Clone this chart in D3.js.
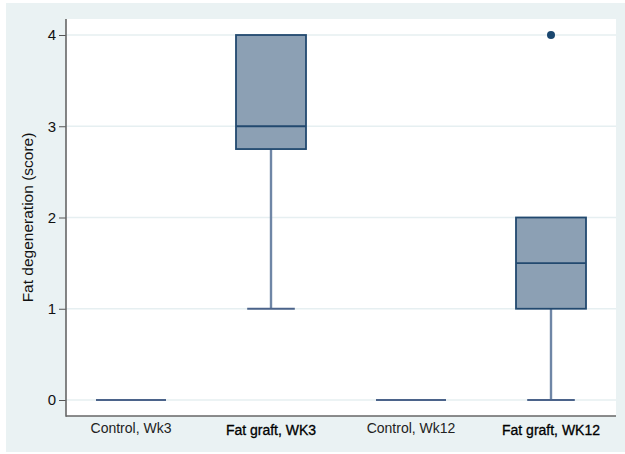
<!DOCTYPE html>
<html>
<head>
<meta charset="utf-8">
<script src="https://cdn.jsdelivr.net/npm/d3@7"></script>
<style>
  html, body { margin: 0; padding: 0; background: #ffffff; }
  svg { display: block; }
  text { font-family: "Liberation Sans", Arial, Helvetica, sans-serif; }
</style>
</head>
<body>
<div id="chart"></div>
<script>
// ---- data ----
const categories = ["Control, Wk3", "Fat graft, WK3", "Control, Wk12", "Fat graft, WK12"];
const lowerWhisker = [0, 1, 0, 0];
const q1 = [0, 2.75, 0, 1];
const median = [0, 3, 0, 1.5];
const q3 = [0, 4, 0, 2];
const upperWhisker = [0, 4, 0, 2];
const outliers = [[], [], [], [4]];
const yTicks = [0, 1, 2, 3, 4];
const yTitle = "Fat degeneration (score)";

// ---- layout ----
const W = 625, H = 454;
const plot = { left: 66, right: 616, top: 19, bottom: 416 };

const svg = d3.select("#chart").append("svg").attr("width", W).attr("height", H);

// outer graph region
svg.append("rect").attr("x", 6).attr("y", 3).attr("width", W - 6).attr("height", H - 5)
  .attr("fill", "#eaf2f3");
// plot region
svg.append("rect").attr("x", plot.left).attr("y", plot.top)
  .attr("width", plot.right - plot.left).attr("height", plot.bottom - plot.top)
  .attr("fill", "#ffffff");

const x = d3.scaleBand().domain(categories).range([61, 621]).paddingInner(0).paddingOuter(0);
const y = d3.scaleLinear().domain([0, 4]).range([400, 35]);
const cx = c => x(c) + x.bandwidth() / 2;
const boxW = x.bandwidth() * 0.5;
const capW = x.bandwidth() * 0.34;

// gridlines
svg.append("g").selectAll("line").data(yTicks).join("line")
  .attr("x1", plot.left).attr("x2", plot.right)
  .attr("y1", d => y(d)).attr("y2", d => y(d))
  .attr("stroke", "#e6eff1").attr("stroke-width", 1.6);

// y axis
const yAxis = d3.axisLeft(y).tickValues(yTicks).tickFormat(d3.format("d")).tickSize(7).tickPadding(3);
const gy = svg.append("g").attr("transform", `translate(${plot.left},0)`).call(yAxis);
gy.select(".domain").remove();
gy.selectAll(".tick line").attr("stroke", "#555").attr("stroke-width", 1);
gy.selectAll(".tick text").attr("font-size", 15).attr("fill", "#111")
  .attr("font-family", "'Liberation Sans', Arial, sans-serif");
svg.append("line").attr("x1", plot.left).attr("x2", plot.left)
  .attr("y1", plot.top).attr("y2", plot.bottom + 0.75)
  .attr("stroke", "#666").attr("stroke-width", 1.6);

// x axis
const xAxis = d3.axisBottom(x).tickSize(0).tickPadding(0);
const gx = svg.append("g").attr("transform", `translate(0,${plot.bottom})`).call(xAxis);
gx.select(".domain").remove();
gx.selectAll(".tick text")
  .attr("font-size", 14)
  .attr("font-family", "'Liberation Sans', Arial, sans-serif")
  .attr("dy", null)
  .attr("y", (d, i) => i % 2 === 0 ? 17 : 18.5)
  .attr("fill", (d, i) => i % 2 === 0 ? "#222" : "#000")
  .attr("stroke", (d, i) => i % 2 === 0 ? "none" : "#000")
  .attr("stroke-width", 0.3);
svg.append("line").attr("x1", plot.left).attr("x2", plot.right)
  .attr("y1", plot.bottom).attr("y2", plot.bottom)
  .attr("stroke", "#666").attr("stroke-width", 1.6);

// y title
svg.append("text")
  .attr("transform", `translate(33,${(plot.top + plot.bottom) / 2}) rotate(-90)`)
  .attr("text-anchor", "middle")
  .attr("font-size", 15.5)
  .attr("fill", "#111")
  .text(yTitle);

// boxes
const g = svg.append("g");
categories.forEach((c, i) => {
  const xc = cx(c);
  // whiskers
  if (lowerWhisker[i] < q1[i]) {
    g.append("line").attr("x1", xc).attr("x2", xc)
      .attr("y1", y(q1[i])).attr("y2", y(lowerWhisker[i]))
      .attr("stroke", "#6f86a6").attr("stroke-width", 2.4);
    g.append("line").attr("x1", xc - capW / 2).attr("x2", xc + capW / 2)
      .attr("y1", y(lowerWhisker[i])).attr("y2", y(lowerWhisker[i]))
      .attr("stroke", "#4b638a").attr("stroke-width", 2);
  }
  if (upperWhisker[i] > q3[i]) {
    g.append("line").attr("x1", xc).attr("x2", xc)
      .attr("y1", y(q3[i])).attr("y2", y(upperWhisker[i]))
      .attr("stroke", "#6f86a6").attr("stroke-width", 2.4);
    g.append("line").attr("x1", xc - capW / 2).attr("x2", xc + capW / 2)
      .attr("y1", y(upperWhisker[i])).attr("y2", y(upperWhisker[i]))
      .attr("stroke", "#4b638a").attr("stroke-width", 2);
  }
  if (q3[i] > q1[i]) {
    g.append("rect").attr("x", xc - boxW / 2).attr("width", boxW)
      .attr("y", y(q3[i])).attr("height", y(q1[i]) - y(q3[i]))
      .attr("fill", "#8ca0b4").attr("stroke", "#22496f").attr("stroke-width", 1.8);
    g.append("line").attr("x1", xc - boxW / 2).attr("x2", xc + boxW / 2)
      .attr("y1", y(median[i])).attr("y2", y(median[i]))
      .attr("stroke", "#22496f").attr("stroke-width", 1.8);
  } else {
    g.append("line").attr("x1", xc - boxW / 2).attr("x2", xc + boxW / 2)
      .attr("y1", y(median[i])).attr("y2", y(median[i]))
      .attr("stroke", "#4b638a").attr("stroke-width", 2);
  }
  outliers[i].forEach(v => {
    g.append("circle").attr("cx", xc).attr("cy", y(v)).attr("r", 4)
      .attr("fill", "#1a476f");
  });
});
</script>
</body>
</html>
